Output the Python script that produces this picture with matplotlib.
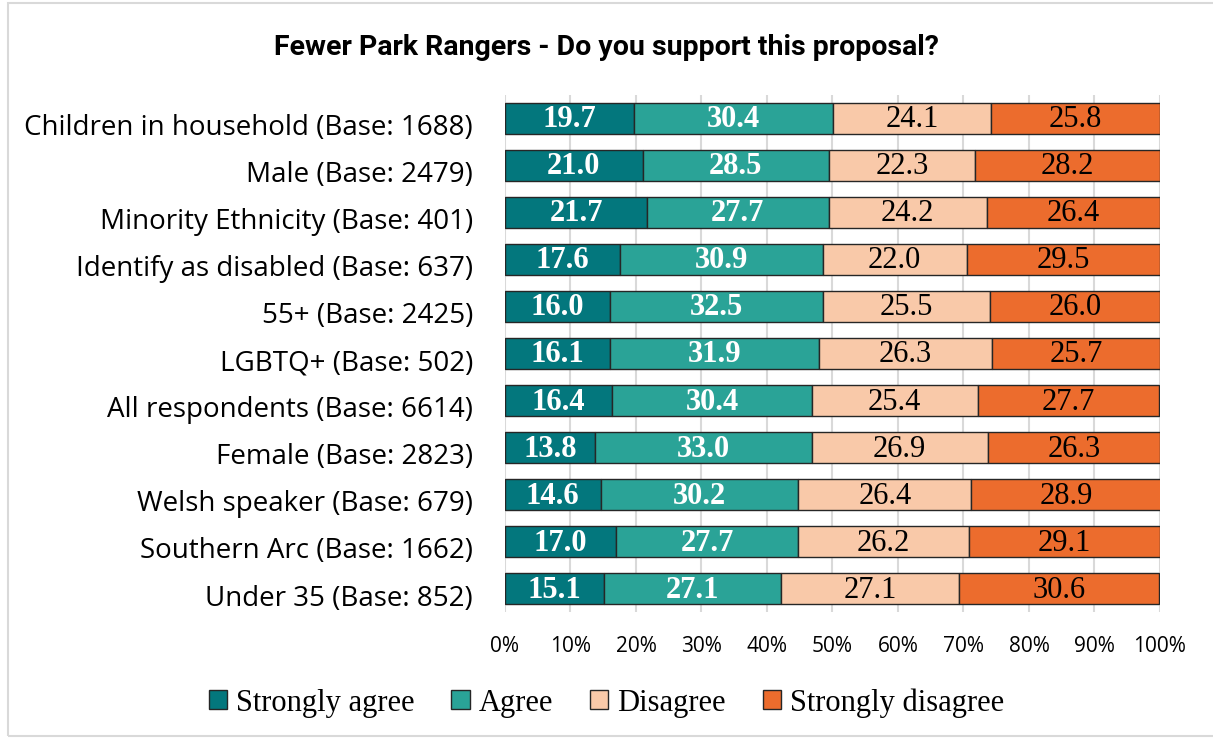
import matplotlib as mpl
from matplotlib import pyplot as plt
from matplotlib.patches import Rectangle
import numpy as np

groups = ["Children in household (Base: 1688)", "Male (Base: 2479)",
          "Minority Ethnicity (Base: 401)", "Identify as disabled (Base: 637)",
          "55+ (Base: 2425)", "LGBTQ+ (Base: 502)", "All respondents (Base: 6614)",
          "Female (Base: 2823)", "Welsh speaker (Base: 679)",
          "Southern Arc (Base: 1662)", "Under 35 (Base: 852)"]
strongly_agree = [19.7, 21.0, 21.7, 17.6, 16.0, 16.1, 16.4, 13.8, 14.6, 17.0, 15.1]
agree = [30.4, 28.5, 27.7, 30.9, 32.5, 31.9, 30.4, 33.0, 30.2, 27.7, 27.1]
disagree = [24.1, 22.3, 24.2, 22.0, 25.5, 26.3, 25.4, 26.9, 26.4, 26.2, 27.1]
strongly_disagree = [25.8, 28.2, 26.4, 29.5, 26.0, 25.7, 27.7, 26.3, 28.9, 29.1, 30.6]
series_names = ["Strongly agree", "Agree", "Disagree", "Strongly disagree"]
tick_labels = ["%d%%" % v for v in range(0, 101, 10)]

colors = ["#03777D", "#2AA397", "#F9C9A9", "#EC6C2D"]
text_colors = ["white", "white", "black", "black"]
weights = ["bold", "bold", "normal", "normal"]

fig = plt.figure(figsize=(12.13, 7.39), dpi=100)
ax = fig.add_axes([0.4163, 0.1712, 0.54, 0.7009])

# light chart border
fig.patches.append(Rectangle((8 / 1213, 3 / 739), 1.0, 733 / 739, transform=fig.transFigure,
                             fill=False, edgecolor="#D9D9D9", linewidth=1.5))

y = np.arange(len(groups))
left = np.zeros(len(groups))
for vals, name, col, tc, w in zip([strongly_agree, agree, disagree, strongly_disagree],
                                  series_names, colors, text_colors, weights):
    vals = np.array(vals)
    bars = ax.barh(y, vals, left=left, height=0.66, color=col, edgecolor="#262626",
                   linewidth=1.0, label=name, zorder=3)
    for yi, l, v in zip(y, left, vals):
        ax.text(l + v / 2, yi + 0.03, "%.1f" % v, ha="center", va="center", color=tc,
                fontsize=22, fontweight=w, family="Liberation Serif", zorder=4)
    left = left + vals

ax.set_xlim(0, 100)
ax.set_ylim(len(groups) - 0.5, -0.5)
# category labels sit a little below the bar centre (ticks are invisible)
ax.set_yticks(y + 0.13)
ax.set_yticklabels(groups, family="Open Sans", fontsize=20)
ax.set_xticks(np.arange(0, 101, 10))
ax.set_xticklabels(tick_labels, family="Open Sans", fontsize=15)
ax.tick_params(axis="y", length=0, pad=23)
ax.tick_params(axis="x", length=0, pad=17)
ax.grid(axis="x", color="#D9D9D9", linewidth=1.5, zorder=0)
for s in ax.spines.values():
    s.set_visible(False)

fig.text(0.5, 0.936, "Fewer Park Rangers - Do you support this proposal?",
         ha="center", va="center", fontsize=20.5, fontweight="bold", family="Roboto")

fig.legend(loc="center", bbox_to_anchor=(0.5, 0.049), ncol=4, frameon=False,
           prop={"family": "Liberation Serif", "size": 22}, handlelength=0.6,
           handleheight=0.6, handletextpad=0.3, columnspacing=1.2)

plt.savefig("out.png", dpi=100)
